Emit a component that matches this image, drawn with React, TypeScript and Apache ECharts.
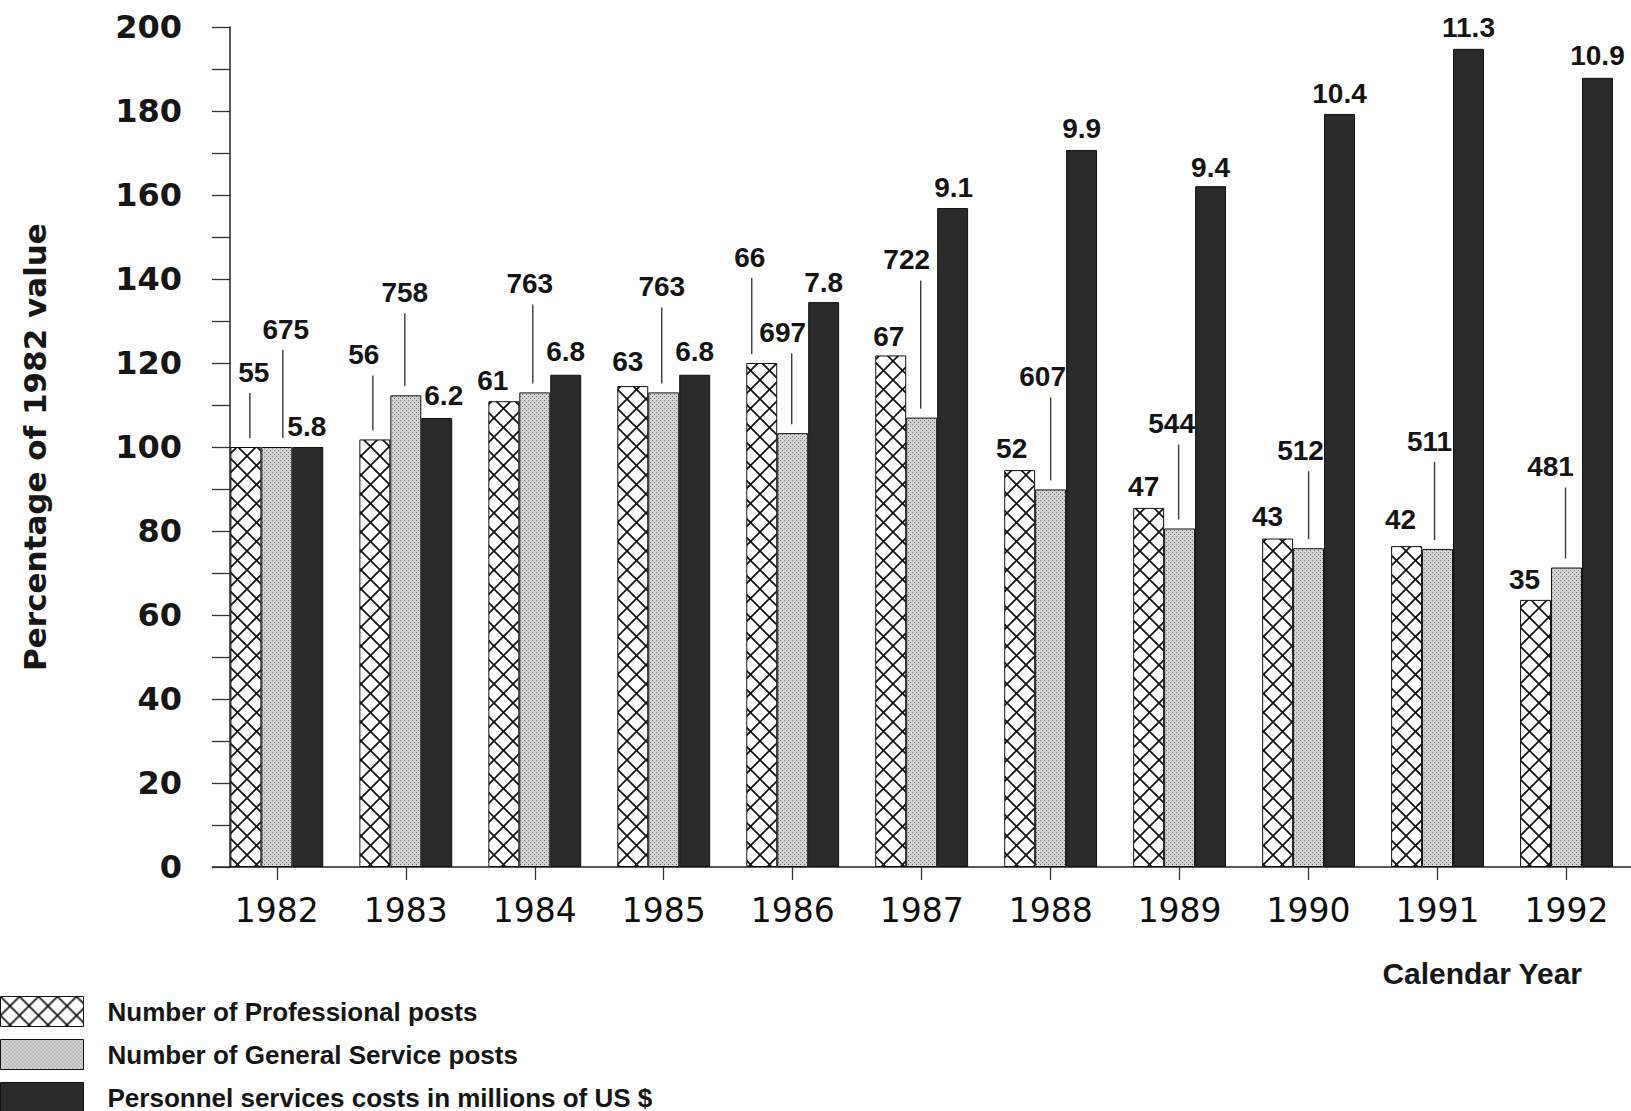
import React, { useEffect, useRef } from "react";
import * as echarts from "echarts";

// ---------------- data ----------------
const years = ["1982", "1983", "1984", "1985", "1986", "1987", "1988", "1989", "1990", "1991", "1992"];
const professionalPosts = [55, 56, 61, 63, 66, 67, 52, 47, 43, 42, 35];
const generalServicePosts = [675, 758, 763, 763, 697, 722, 607, 544, 512, 511, 481];
const costsMillionsUSD = ["5.8", "6.2", "6.8", "6.8", "7.8", "9.1", "9.9", "9.4", "10.4", "11.3", "10.9"];
// Percentage of 1982 value (bar heights)
const professionalPct = [100, 101.8, 110.9, 114.5, 120, 121.8, 94.5, 85.5, 78.2, 76.4, 63.6];
const generalServicePct = [100, 112.3, 113, 113, 103.3, 107, 89.9, 80.6, 75.9, 75.7, 71.3];
const costsPct = [100, 106.9, 117.2, 117.2, 134.5, 156.9, 170.7, 162.1, 179.3, 194.8, 187.9];
const seriesNames = [
  "Number of Professional posts",
  "Number of General Service posts",
  "Personnel services costs in millions of US $",
];
const yAxisTitle = "Percentage of 1982 value";
const xAxisTitle = "Calendar Year";
const yMin = 0;
const yMax = 200;
const yStep = 20;

// ---------------- label layout (pixels: dx from bar centre, rise above bar top, leader-line dx or null) ----------------
const labelLayout: (number | null)[][][] = [
  [[8, 75, 4], [-11, 85, -2], [-11, 21, null], [-5, 25, null], [-12, 106, -10], [-2, 19, null], [-8, 22, null], [-5, 21, null], [-10, 22, null], [-6, 27, null], [-11, 20, null]],
  [[9, 118, 6], [-1, 103, -1], [-5, 109, -2], [-2, 106, -2], [-10, 101, -1], [-15, 158, -1], [-8, 113, 0], [-8, 105, -1], [-8, 98, 0], [-8, 108, -3], [-16, 101, -1]],
  [[-1, 21, null], [7, 23, null], [0, 23, null], [0, 23, null], [0, 20, null], [1, 21, null], [0, 22, null], [0, 19, null], [0, 20, null], [0, 21, null], [0, 22, null]],
];

const BAR_FRAC = 0.24;
const HATCH = 19;

function crossHatch(): string {
  const c = document.createElement("canvas");
  c.width = HATCH;
  c.height = HATCH;
  const g = c.getContext("2d")!;
  g.fillStyle = "#ffffff";
  g.fillRect(0, 0, HATCH, HATCH);
  g.strokeStyle = "#111111";
  g.lineWidth = 1.7;
  g.beginPath();
  g.moveTo(-1, -1);
  g.lineTo(HATCH + 1, HATCH + 1);
  g.moveTo(HATCH + 1, -1);
  g.lineTo(-1, HATCH + 1);
  g.stroke();
  return c.toDataURL();
}

function dots(): string {
  const c = document.createElement("canvas");
  c.width = 4;
  c.height = 4;
  const g = c.getContext("2d")!;
  g.fillStyle = "#d4d4d4";
  g.fillRect(0, 0, 4, 4);
  g.fillStyle = "#6a6a6a";
  g.fillRect(0, 0, 1, 1);
  g.fillRect(2, 2, 1, 1);
  return c.toDataURL();
}

export default function App() {
  const ref = useRef<HTMLDivElement>(null);

  useEffect(() => {
    if (!ref.current) return;
    const chart = echarts.init(ref.current, undefined, { renderer: "svg" });

    const patProf = { image: crossHatch(), repeat: "repeat", imageWidth: HATCH, imageHeight: HATCH };
    const patGS = { image: dots(), repeat: "repeat", imageWidth: 4, imageHeight: 4 };
    const darkFill = "#2a2a2a";

    const pctSeries = [professionalPct, generalServicePct, costsPct];
    const labelTexts = [
      professionalPosts.map(String),
      generalServicePosts.map(String),
      costsMillionsUSD,
    ];
    const labelData: number[][] = [];
    pctSeries.forEach((arr, s) => arr.forEach((v, i) => labelData.push([i, v, s])));

    const fills: any[] = [patProf, patGS, darkFill];

    const option: any = {
      animation: false,
      backgroundColor: "#ffffff",
      grid: { left: 212.35, right: -3.65, top: 27, bottom: 244, containLabel: false },
      legend: {
        orient: "vertical",
        left: 0,
        top: 996,
        height: 200,
        padding: 0,
        icon: "rect",
        itemWidth: 83,
        itemHeight: 30,
        itemGap: 12,
        data: seriesNames,
        selectedMode: false,
        itemStyle: { borderColor: "#111", borderWidth: 1 },
        textStyle: {
          fontFamily: "Liberation Sans",
          fontWeight: "bold",
          fontSize: 26,
          color: "#151515",
          padding: [0, 0, 0, 19],
        },
      },
      xAxis: {
        type: "category",
        data: years,
        axisLine: { show: true, lineStyle: { color: "#222", width: 1.5 } },
        axisTick: { show: true, alignWithLabel: true, length: 13, lineStyle: { color: "#333", width: 1.3 } },
        axisLabel: {
          margin: 27,
          fontFamily: "DejaVu Sans",
          fontSize: 33,
          color: "#0e0e0e",
        },
        splitLine: { show: false },
      },
      yAxis: {
        type: "value",
        min: yMin,
        max: yMax,
        interval: yStep,
        offset: -17.65,
        name: yAxisTitle,
        nameLocation: "middle",
        nameGap: 180,
        nameTextStyle: {
          fontFamily: "DejaVu Sans",
          fontWeight: "bold",
          fontSize: 31,
          color: "#161616",
        },
        axisLine: { show: true, lineStyle: { color: "#222", width: 1.5 } },
        axisTick: { show: true, inside: false, length: 18, lineStyle: { color: "#333", width: 1.3 } },
        minorTick: { show: true, splitNumber: 2, length: 18, lineStyle: { color: "#333", width: 1.3 } },
        axisLabel: {
          margin: 48,
          fontFamily: "DejaVu Sans",
          fontWeight: "bold",
          fontSize: 32,
          color: "#161616",
        },
        splitLine: { show: false },
        minorSplitLine: { show: false },
      },
      graphic: [
        {
          type: "text",
          x: 1582,
          y: 973,
          style: {
            text: xAxisTitle,
            font: "bold 30px 'Liberation Sans'",
            fill: "#161616",
            textAlign: "right",
            textVerticalAlign: "middle",
            align: "right",
            verticalAlign: "middle",
          },
        },
      ],
      series: [
        ...pctSeries.map((arr, s) => ({
          type: "bar",
          name: seriesNames[s],
          data: arr,
          barWidth: BAR_FRAC * 100 + "%",
          barGap: "0%",
          itemStyle: {
            color: fills[s],
            borderColor: "#111",
            borderWidth: 1,
          },
          emphasis: { disabled: true },
        })),
        {
          type: "custom",
          name: "labels",
          data: labelData,
          encode: { x: 0, y: 1 },
          z: 10,
          silent: true,
          renderItem: (_params: any, api: any) => {
            const s = api.value(2);
            const i = api.value(0);
            const top = api.coord([i, api.value(1)]);
            const bw = api.size([1, 0])[0] * BAR_FRAC;
            const cx = top[0] + (s - 1) * bw;
            const [dx, rise, lineDx] = labelLayout[s][i] as [number, number, number | null];
            const ly = top[1] - rise;
            const children: any[] = [
              {
                type: "text",
                style: {
                  text: labelTexts[s][i],
                  x: cx + dx,
                  y: ly,
                  font: "bold 28px 'Liberation Sans'",
                  fill: "#141414",
                  textAlign: "center",
                  textVerticalAlign: "middle",
                  align: "center",
                  verticalAlign: "middle",
                },
              },
            ];
            if (lineDx !== null && lineDx !== undefined) {
              children.push({
                type: "line",
                shape: { x1: cx + lineDx, y1: ly + 21, x2: cx + lineDx, y2: top[1] - 9 },
                style: { stroke: "#3a3a3a", lineWidth: 1.4 },
              });
            }
            return { type: "group", children };
          },
        },
      ],
    };

    chart.setOption(option);
    return () => chart.dispose();
  }, []);

  return (
    <div
      ref={ref}
      style={{ position: "fixed", left: 0, top: 0, width: 1631, height: 1111, background: "#fff" }}
    />
  );
}
